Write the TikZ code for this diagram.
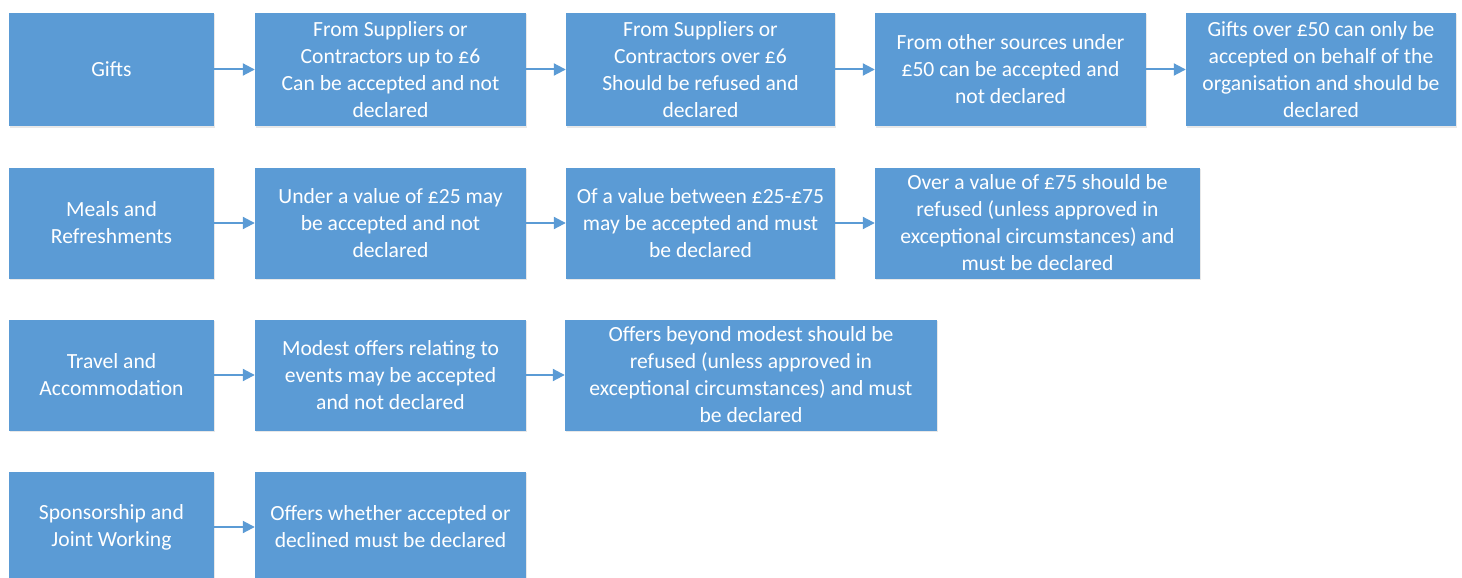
\documentclass[tikz,border=0pt]{standalone}
\usepackage{fontspec}
\setmainfont{Carlito}
\usepackage{tikz}
\usetikzlibrary{arrows.meta,shadows}
\definecolor{boxblue}{HTML}{5B9BD5}
\tikzset{>=stealth,
  box/.style={fill=boxblue, text=white, inner sep=0pt, align=center,
    minimum height=111pt, font=\fontsize{21.6}{27}\selectfont,
    drop shadow={shadow xshift=1pt, shadow yshift=-1.5pt, opacity=0.18}},
  link/.style={draw=boxblue, line width=2pt, -{Triangle[length=12pt,width=12pt]}}}

\begin{document}
\begin{tikzpicture}[x=1pt,y=-1pt]
    \useasboundingbox (0,0) rectangle (1462,578);
    \clip (0,0) rectangle (1462,578);
    % gifts
    \node[box, minimum width=205pt, minimum height=113pt] at (111.5, 69.5) (gifts) {Gifts};
    \node[box, minimum width=271pt, minimum height=113pt] at (390.5, 69.5) (g1)
    {From Suppliers or\\Contractors up to £6\\Can be accepted and not\\declared};
    \node[box, minimum width=269pt, minimum height=113pt] at (700.5, 69.5) (g2)
    {From Suppliers or\\Contractors over £6\\Should be refused and\\declared};
    \node[box, minimum width=271pt, minimum height=113pt] at (1010.5, 69.5) (g3)
    {From other sources under\\£50 can be accepted and\\not declared};
    \node[box, minimum width=270pt, minimum height=113pt] at (1321, 69.5) (g4)
    {Gifts over £50 can only be\\accepted on behalf of the\\organisation and should be\\declared};
    % meals
    \node[box, minimum width=205pt] at (111.5, 223) (meals) {Meals and\\Refreshments};
    \node[box, minimum width=271pt] at (390.5, 223) (m1)
    {Under a value of £25 may\\be accepted and not\\declared};
    \node[box, minimum width=269pt] at (700.5, 223) (m2)
    {Of a value between £25-£75\\may be accepted and must\\be declared};
    \node[box, minimum width=325pt] at (1037.5, 223) (m3)
    {Over a value of £75 should be\\refused (unless approved in\\exceptional circumstances) and\\must be declared};
    % travel
    \node[box, minimum width=205pt] at (111.5, 375) (travel) {Travel and\\Accommodation};
    \node[box, minimum width=271pt] at (390.5, 375) (t1)
    {Modest offers relating to\\events may be accepted\\and not declared};
    \node[box, minimum width=372pt] at (751, 375) (t2)
    {Offers beyond modest should be\\refused (unless approved in\\exceptional circumstances) and must\\be declared};
    % sponsorship
    \node[box, minimum width=205pt] at (111.5, 527) (spons) {Sponsorship and\\Joint Working};
    \node[box, minimum width=271pt] at (390.5, 527) (s1)
    {Offers whether accepted or\\declined must be declared};

    \draw[link] (gifts) -- (g1);
    \draw[link] (g1) -- (g2);
    \draw[link] (g2) -- (g3);
    \draw[link] (g3) -- (g4);
    \draw[link] (meals) -- (m1);
    \draw[link] (m1) -- (m2);
    \draw[link] (m2) -- (m3);
    \draw[link] (travel) -- (t1);
    \draw[link] (t1) -- (t2);
    \draw[link] (spons) -- (s1);
\end{tikzpicture}
\end{document}
